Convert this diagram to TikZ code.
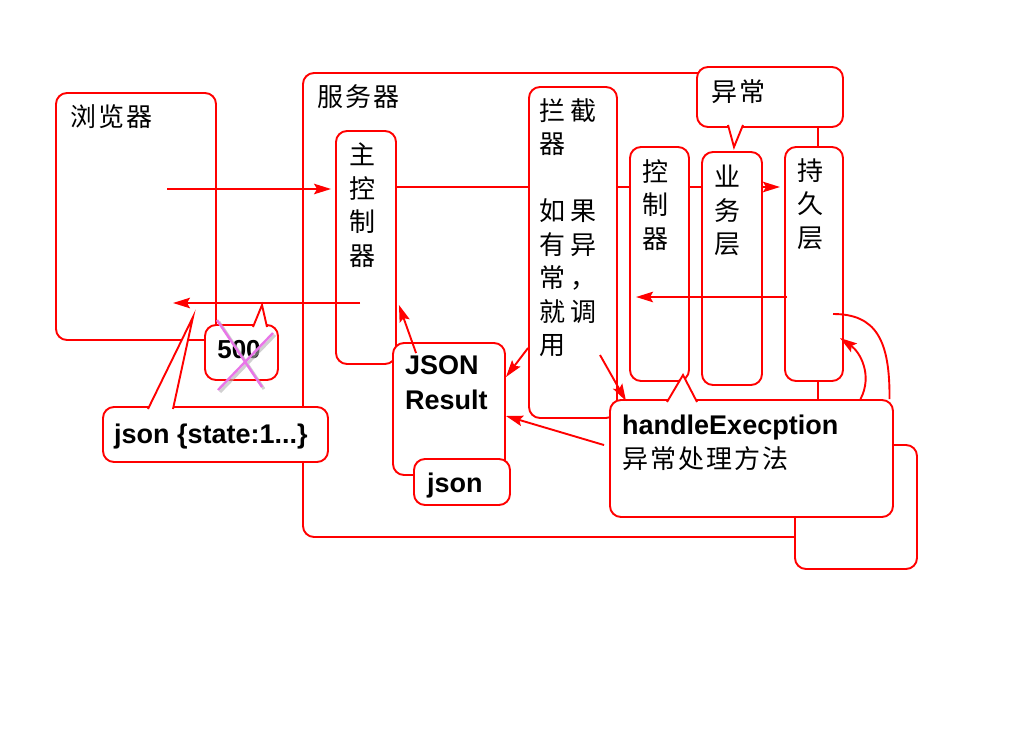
\documentclass[tikz,border=0pt]{standalone}
\usepackage{fontspec}
\setmainfont{Liberation Sans}
\newfontfamily\cjk[LetterSpace=8]{Noto Sans CJK SC}
\usetikzlibrary{arrows.meta,calc}
\definecolor{crosspink}{RGB}{232,118,232}
\def\rbox[#1](#2)(#3,#4)(#5,#6){\node[box,#1,minimum width={(#5)-(#3)},minimum height={(#6)-(#4)}] (#2) at ({((#3)+(#5))/2},{((#4)+(#6))/2}) {};}
\def\pointer(#1)(#2)(#3){\filldraw[wire,fill=white] (#1) -- (#2) -- (#3);}

\begin{document}
\begin{tikzpicture}[x=1pt,y=-1pt,
	box/.style={draw=red,line width=1.9pt,rounded corners=11pt,fill=white,inner sep=0pt},
	wire/.style={draw=red,line width=1.9pt},
	arr/.style={wire,-{Stealth[length=17pt,width=10.5pt,inset=3pt]}},
	zh/.style={font=\cjk\fontsize{26}{33.5}\selectfont,inner sep=0pt},
	en/.style={font=\bfseries\fontsize{27}{35}\selectfont,inner sep=0pt}]
	%%%%% START %%%%%
	\useasboundingbox (0,0) rectangle (1024,738);
	
	\rbox[](browser)(56,93)(216,340)
	\rbox[](server)(303,73)(818,537)
	
	\coordinate (req) at (167,189);
	\draw[arr,shorten >=4pt] (req) -- (req -| server.west) -- ++(33,0);
	\coordinate (fwd) at (0,187);
	
	\rbox[](mainctl)(336,131)(396,364)
	\draw[arr,shorten >=5pt] (mainctl.east |- fwd) -- (785,187);
	
	\rbox[](intercept)(529,87)(617,418)
	\rbox[](ctl)(630,147)(689,381)
	\rbox[](service)(702,152)(762,385)
	\rbox[](dao)(785,147)(843,381)
	
	\coordinate (back) at (787,297);
	\draw[arr] (back) -- ([xshift=7pt]ctl.west |- back);
	\coordinate (resp) at (360,303);
	\coordinate (respend) at (173,303);
	\draw[arr] (resp) -- (respend);
	
	\rbox[](extra)(795,445)(917,569)
	\rbox[](handler)(610,400)(893,517)
	\pointer(667,402)(683,375)(697,402)
	
	\rbox[](result)(393,343)(505,475)
	\rbox[](jsonbox)(414,459)(510,505)
	
	\draw[arr] ([shift={(24,11)}]result.north west) -- ([shift={(2,-60)}]mainctl.south east);
	\draw[arr] (intercept.west |- 0,348) -- (result.east |- 0,377);
	\coordinate (callfrom) at (600,355);
	\draw[arr] (callfrom) -- ([shift={(17,2)}]handler.north west);
	\draw[arr] ([shift={(-5,46)}]handler.north west) -- (result.east |- 0,416);
	
	\draw[arr] ([xshift=109pt]handler.north) .. controls (873,375) and (860,352) .. (840,338);
	\coordinate (loopin) at (833,314);
	\draw[wire] (loopin) .. controls (876,314) and (890,340) .. ([xshift=138pt]handler.north);
	
	\rbox[](code)(205,325)(278,380)
	\pointer(253,327)(262,305)(267,327)
	\rbox[](jsoncall)(103,407)(328,462)
	\pointer(148,409)(193,317)(173,409)
	\rbox[](exc)(697,67)(843,127)
	\pointer(728,125)(734,147)(743,125)
	
	\node[zh,anchor=west] (tbrowser) at (70,117) {浏览器};
	\node[zh,anchor=west] (tserver) at (317,97) {服务器};
	\node[zh,anchor=north,align=center] (tmain) at (362,143) {主\\控\\制\\器};
	\node[zh,anchor=north west,align=left] (tintercept) at (539,98) {拦\hspace{5pt}截\\器\\[33.5pt]如\hspace{5pt}果\\有\hspace{5pt}异\\常\hspace{5pt}，\\就\hspace{5pt}调\\用};
	\node[zh,anchor=north,align=center] (tctl) at (655,159) {控\\制\\器};
	\node[zh,anchor=north,align=center] (tservice) at (727,165) {业\\务\\层};
	\node[zh,anchor=north,align=center] (tdao) at (810,158) {持\\久\\层};
	\node[zh,anchor=west] (texc) at (711,92) {异常};
	\node[en,anchor=base west] (thandler) at (622,434) {handleExecption};
	\node[zh,anchor=west] (thandlezh) at (622,459) {异常处理方法};
	\node[en,anchor=north west,align=left] (tresult) at (405,355) {JSON\\Result};
	\node[en,anchor=base west] (tjson) at (427,492) {json};
	\node[en,font=\bfseries\fontsize{26}{30}\selectfont] (tcode) at (239,350) {500};
	\node[en,anchor=base west] (tjsoncall) at (114,443) {json \{state:1...\}};
	
	\draw[line width=3pt,black!30,opacity=.6] (219,322) -- (264,389) (275,335) -- (220,392);
	\draw[line width=2.4pt,crosspink] (217,320) -- (262,387) (273,333) -- (218,390);
	%%%%% END %%%%%
\end{tikzpicture}
\end{document}
